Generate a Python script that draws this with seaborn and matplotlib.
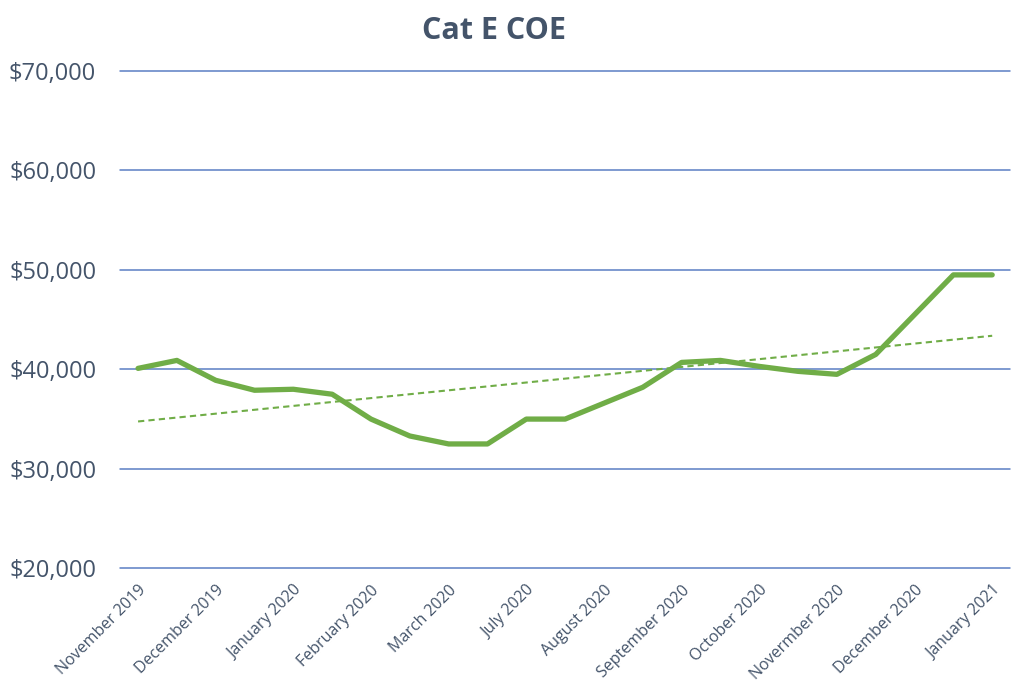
import numpy as np
import pandas as pd
import matplotlib
matplotlib.use('Agg')
import matplotlib.pyplot as plt
import seaborn as sns

# Cat E COE premiums, two bidding exercises per month
coe_values = [40100, 40900, 38900, 37900, 38000, 37500, 35000, 33300, 32500, 32500,
              35000, 35000, 36600, 38200, 40700, 40900, 40300, 39800, 39500, 41500,
              45500, 49500, 49500]
month_labels = ['November 2019', 'December 2019', 'January 2020', 'February 2020',
                'March 2020', 'July 2020', 'August 2020', 'September 2020',
                'October 2020', 'Novermber 2020', 'December 2020', 'January 2021']
y_ticks = [20000, 30000, 40000, 50000, 60000, 70000]

df = pd.DataFrame({'idx': np.arange(len(coe_values)), 'coe': coe_values})

sns.set_style('white')
plt.rcParams['font.family'] = ['Open Sans', 'DejaVu Sans']

text_color = '#44546A'
green = '#70AD47'

fig = plt.figure(figsize=(10.24, 6.83), dpi=100)
ax = fig.add_axes([0.117, 0.168, 0.869, 0.728])

for v in y_ticks:
    ax.axhline(v, color='#5B7FC4', lw=1.1, zorder=0, clip_on=False)

sns.lineplot(data=df, x='idx', y='coe', color=green, lw=3.8, ax=ax,
             solid_joinstyle='round', solid_capstyle='round')
sns.regplot(data=df, x='idx', y='coe', scatter=False, ci=None, ax=ax,
            line_kws={'color': green, 'lw': 1.5, 'ls': (0, (3, 2))})

ax.set_ylim(20000, 70000)
ax.set_xlim(-0.47, 22.45)
ax.set_yticks(y_ticks)
ax.set_yticklabels([f'${v:,.0f}' for v in y_ticks], fontsize=17, color=text_color)
ax.set_xticks(np.arange(0, len(coe_values), 2))
ax.set_xticklabels(month_labels, rotation=45, ha='right', rotation_mode='anchor',
                   fontsize=11.5, color=text_color)
ax.tick_params(axis='both', length=0)
ax.tick_params(axis='y', pad=17)
ax.tick_params(axis='x', pad=10)
ax.set_xlabel('')
ax.set_ylabel('')
sns.despine(ax=ax, left=True, bottom=True)

fig.text(0.482, 0.955, 'Cat E COE', ha='center', va='center', fontsize=22,
         fontweight='bold', color=text_color)

fig.savefig('out.png', dpi=100)
